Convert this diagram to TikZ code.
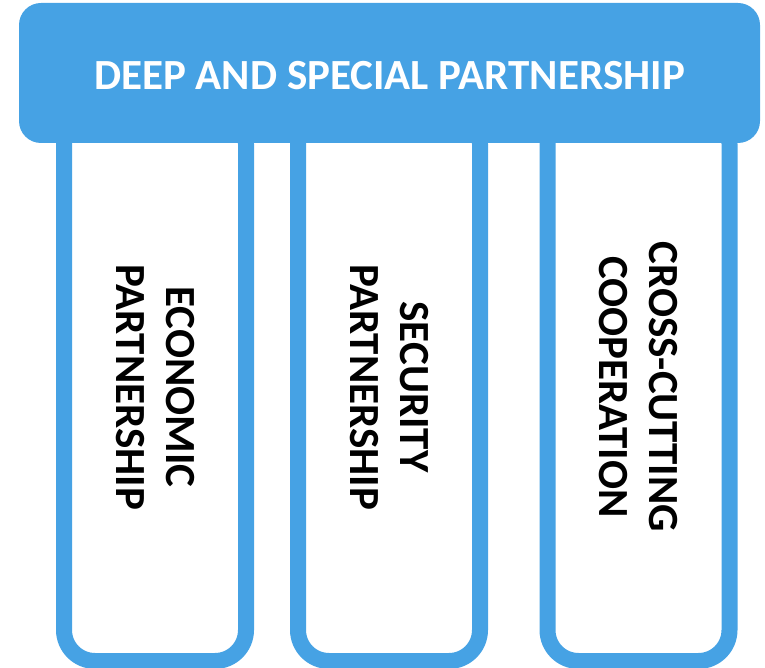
\documentclass[tikz,border=0pt]{standalone}
\usepackage{fontspec}
\setmainfont{Carlito}
\definecolor{pblue}{HTML}{46A2E4}
\begin{document}
\begin{tikzpicture}[x=1pt,y=-1pt,
  pillar/.style={draw=pblue,line width=16pt,fill=white,rectangle,rounded corners=31pt,
    minimum width=182pt,minimum height=548pt,inner sep=0pt},
  banner/.style={fill=pblue,rectangle,rounded corners=22pt,minimum width=741pt,minimum height=140pt,inner sep=0pt},
  title/.style={text=white,font=\fontsize{43}{50}\selectfont\bfseries},
  ptext/.style={text=black,font=\fontsize{43}{50}\selectfont\bfseries,align=center,rotate=-90,inner sep=0pt}]
\useasboundingbox (0,0) rectangle (765,668);
\node[pillar] (p1) at (155,387) {};
\node[pillar] (p2) at (389,387) {};
\node[pillar] (p3) at (638.5,387) {};
\node[banner] (b) at (389.5,73) {};
\node[title,anchor=base] (t) at (389.5,90) {DEEP AND SPECIAL PARTNERSHIP};
\node[ptext] (t1) at (p1.center) {ECONOMIC\\PARTNERSHIP};
\node[ptext] (t2) at (p2.center) {SECURITY\\PARTNERSHIP};
\node[ptext] (t3) at (p3.center) {CROSS-CUTTING\\COOPERATION};
\end{tikzpicture}
\end{document}
